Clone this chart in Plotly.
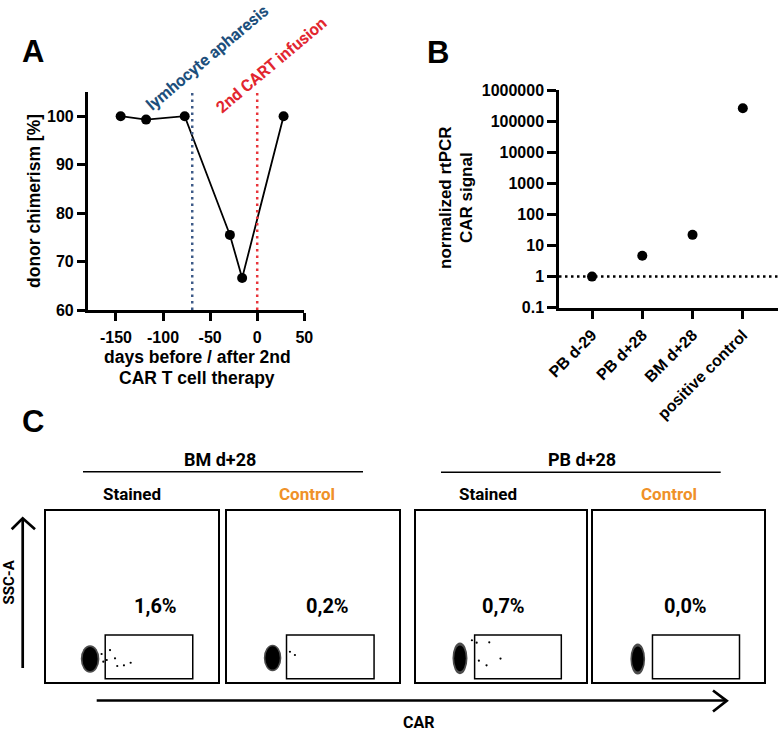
import plotly.graph_objects as go

W, H = 778, 731

# ---------------- Panel A data ----------------
days = [-145, -118, -77, -29, -16, 28]
chimerism = [100, 99.3, 100, 75.5, 66.6, 100]
event_days = [-69, 0]
event_labels = ["lymhocyte apharesis", "2nd CART infusion"]
event_colors = ["#1d4f7c", "#e2262f"]
event_dot_colors = ["#3d5a88", "#e8343a"]
a_xticks = [-150, -100, -50, 0, 50]
a_xticklabels = ["-150", "-100", "-50", "0", "50"]
a_yticks = [60, 70, 80, 90, 100]

# ---------------- Panel B data ----------------
samples = ["PB d-29", "PB d+28", "BM d+28", "positive control"]
car_signal = [1, 4.7, 22, 260000]
threshold = 1
b_yticks = [0.1, 1, 10, 100, 1000, 10000, 100000, 1000000]
b_yticklabels = ["0.1", "1", "10", "100", "1000", "10000", "100000", "1000000"]

# ---------------- Panel C data ----------------
flow_groups = ["BM d+28", "PB d+28"]
flow_conditions = ["Stained", "Control", "Stained", "Control"]
flow_percent = ["1,6%", "0,2%", "0,7%", "0,0%"]
# main cell cloud (centre x, centre y, core w, core h, halo w, halo h) in % of plot
cloud_cx = [25.8, 26.5, 26.0, 26.0]
cloud_cy = [13.6, 14.2, 14.0, 13.6]
cloud_core_w = [8.8, 8.4, 6.8, 6.8]
cloud_core_h = [14.0, 13.5, 15.0, 14.5]
cloud_halo_w = [10.8, 10.2, 8.8, 8.6]
cloud_halo_h = [16.0, 15.5, 18.5, 18.0]
# stray events (x %, y %)
stray_x = [[37.4, 35.5, 40.3, 41.6, 45.5, 49.4, 33.5, 32.5],
           [36.6, 39.5],
           [35.8, 43.2, 37.1, 41.6, 49.8, 33.0],
           []]
stray_y = [[18.8, 13.0, 14.0, 9.5, 9.9, 11.4, 12.0, 16.5],
           [17.8, 15.9],
           [23.1, 23.3, 12.6, 9.9, 13.8, 24.5],
           []]
gate_x = [34.6, 85.5]
gate_y = [2.0, 27.6]
pct_x = [64.0, 58.7, 51.8, 54.2]
pct_y = 44.5
cond_label_x = [0.50, 0.465, 0.426, 0.444]

# ---------------- helpers ----------------
def px(x):
    return x / W

def py(y):
    return 1 - y / H

ARIAL = "Liberation Sans, Arial, sans-serif"
COND = "Liberation Sans Narrow, Roboto, DejaVu Sans, sans-serif"

fig = go.Figure()

fig.add_trace(go.Scatter(
    x=days, y=chimerism, mode="lines+markers",
    line=dict(color="black", width=1.8),
    marker=dict(color="black", size=10),
    xaxis="x", yaxis="y", showlegend=False, hoverinfo="skip"))

fig.add_trace(go.Scatter(
    x=samples, y=car_signal, mode="markers",
    marker=dict(color="black", size=10),
    xaxis="x2", yaxis="y2", showlegend=False, hoverinfo="skip"))

for i in range(4):
    ax = str(i + 3)
    if stray_x[i]:
        fig.add_trace(go.Scatter(
            x=stray_x[i], y=stray_y[i], mode="markers",
            marker=dict(color="black", size=2.2),
            xaxis="x" + ax, yaxis="y" + ax, showlegend=False, hoverinfo="skip"))

tickfont = dict(family=ARIAL, size=16, color="black", weight="bold")
axcommon = dict(showline=True, linecolor="black", linewidth=2.5, ticks="outside",
                tickwidth=2.5, tickcolor="black", showgrid=False, zeroline=False,
                tickfont=tickfont, fixedrange=True, automargin=False)

layout = dict(
    template="none",
    width=W, height=H, autosize=False,
    margin=dict(l=0, r=0, t=0, b=0, pad=0, autoexpand=False),
    paper_bgcolor="white", plot_bgcolor="white", showlegend=False,
    xaxis=dict(domain=[px(87.7), px(304.3)], range=[-180, 50], tickvals=a_xticks,
               ticktext=a_xticklabels, ticklen=8, anchor="y", ticklabelstandoff=3, **axcommon),
    yaxis=dict(domain=[py(310), py(92)], range=[60, 105], tickvals=a_yticks,
               ticklen=8, anchor="x", **axcommon),
    xaxis2=dict(domain=[px(559), 1.0], range=[-0.657, 3.70], type="category",
                ticklen=9, tickangle=-45, anchor="y2", **axcommon),
    yaxis2=dict(domain=[py(307.7), py(90)], type="log", range=[-1, 6],
                tickvals=b_yticks, ticktext=b_yticklabels, ticklen=9,
                anchor="x2", **axcommon),
)

box_x = [(45.7, 217.7), (227, 399), (415.7, 586), (593.3, 764.3)]
box_y = (510.7, 682.3)
for i in range(4):
    n = i + 3
    common = dict(range=[0, 100], showline=True, mirror=True, linecolor="black", linewidth=2,
                  showticklabels=False, ticks="", showgrid=False, zeroline=False,
                  fixedrange=True, automargin=False)
    layout["xaxis%d" % n] = dict(domain=[px(box_x[i][0]), px(box_x[i][1])],
                                 anchor="y%d" % n, **common)
    layout["yaxis%d" % n] = dict(domain=[py(box_y[1]), py(box_y[0])],
                                 anchor="x%d" % n, **common)
fig.update_layout(**layout)

shapes = []
annotations = []

def note(text, x, y, font, xref="paper", yref="paper", angle=0):
    annotations.append(dict(text=text, x=x, y=y, xref=xref, yref=yref, showarrow=False,
                            textangle=angle, xanchor="center", yanchor="middle", font=font))

# Panel A event lines and labels
label_pos = [(208, 58), (271, 65)]
for d, lab, c, dc, (lx, ly) in zip(event_days, event_labels, event_colors, event_dot_colors, label_pos):
    shapes.append(dict(type="line", xref="x", yref="y", x0=d, x1=d, y0=60, y1=105.5,
                       line=dict(color=dc, width=2.5, dash="2.5px,4px")))
    note(lab, px(lx), py(ly), dict(family=COND, size=16.5, color=c, weight="bold"), angle=-40)

# Panel B threshold
shapes.append(dict(type="line", xref="x2 domain", yref="y2", x0=0, x1=1, y0=threshold, y1=threshold,
                   line=dict(color="black", width=2.5, dash="2.5px,3.5px")))

# Panel letters
for t, (lx, ly) in zip(["A", "B", "C"], [(32.5, 51), (437.5, 53), (33.3, 421.7)]):
    note(t, px(lx), py(ly), dict(family=ARIAL, size=31, color="black", weight="bold"))

# Axis titles
titlefont = dict(family=ARIAL, size=17.5, color="black", weight="bold")
titlefont_b = dict(family=ARIAL, size=17, color="black", weight="bold")
note("donor chimerism [%]", px(34), py(201), titlefont, angle=-90)
note("days before / after 2nd", px(197), py(356.7), titlefont)
note("CAR T cell therapy", px(197), py(377.8), titlefont)
note("normalized rtPCR", px(445), py(198), titlefont_b, angle=-90)
note("CAR signal", px(466), py(198), titlefont_b, angle=-90)

# Panel C
group_x = [220, 581.7]
group_line = [(83, 363, 471.7), (441, 720.7, 472.3)]
for g, gx, (lx0, lx1, ly) in zip(flow_groups, group_x, group_line):
    note(g, px(gx), py(459), dict(family=COND, size=18, color="black", weight="bold"))
    shapes.append(dict(type="line", xref="paper", yref="paper", x0=px(lx0), x1=px(lx1),
                       y0=py(ly), y1=py(ly), line=dict(color="black", width=1.5)))

for i in range(4):
    n = i + 3
    xr, yr = "x%d" % n, "y%d" % n
    col = "black" if flow_conditions[i] == "Stained" else "#ef9128"
    note(flow_conditions[i], cond_label_x[i], py(494),
         dict(family=COND, size=17, color=col, weight="bold"), xref=xr + " domain")
    note(flow_percent[i], pct_x[i], pct_y,
         dict(family=COND, size=20, color="black", weight="bold"), xref=xr, yref=yr)
    shapes.append(dict(type="rect", xref=xr, yref=yr, x0=gate_x[0], x1=gate_x[1],
                       y0=gate_y[0], y1=gate_y[1], line=dict(color="black", width=1.5)))
    shapes.append(dict(type="circle", xref=xr, yref=yr,
                       x0=cloud_cx[i] - cloud_halo_w[i] / 2, x1=cloud_cx[i] + cloud_halo_w[i] / 2,
                       y0=cloud_cy[i] - cloud_halo_h[i] / 2, y1=cloud_cy[i] + cloud_halo_h[i] / 2,
                       fillcolor="rgba(0,0,0,0.7)", line=dict(width=0)))
    shapes.append(dict(type="circle", xref=xr, yref=yr,
                       x0=cloud_cx[i] - cloud_core_w[i] / 2, x1=cloud_cx[i] + cloud_core_w[i] / 2,
                       y0=cloud_cy[i] - cloud_core_h[i] / 2, y1=cloud_cy[i] + cloud_core_h[i] / 2,
                       fillcolor="black", line=dict(width=0)))

# SSC-A arrow
shapes.append(dict(type="line", xref="paper", yref="paper", x0=px(22.7), x1=px(22.7),
                   y0=py(668), y1=py(519), line=dict(color="black", width=2.7)))
shapes.append(dict(type="path", xref="paper", yref="paper",
                   path="M %f,%f L %f,%f L %f,%f" % (px(11.7), py(529.3), px(22.7), py(518.3),
                                                     px(35), py(529.3)),
                   line=dict(color="black", width=2.7)))
note("SSC-A", px(8.5), py(582), dict(family=COND, size=15, color="black", weight="bold"),
     angle=-90)
# CAR arrow
shapes.append(dict(type="line", xref="paper", yref="paper", x0=px(96.7), x1=px(726),
                   y0=py(700.5), y1=py(700.5), line=dict(color="black", width=2.7)))
shapes.append(dict(type="path", xref="paper", yref="paper",
                   path="M %f,%f L %f,%f L %f,%f" % (px(713), py(690.5), px(726.7), py(700.8),
                                                     px(713), py(711.5)),
                   line=dict(color="black", width=2.7)))
note("CAR", px(418), py(722.5), dict(family=COND, size=16, color="black", weight="bold"))

fig.update_layout(shapes=shapes, annotations=annotations)
fig.write_html("out.html", config={"displayModeBar": False},
               post_script="document.body.style.margin='0';document.body.style.overflow='hidden';")
